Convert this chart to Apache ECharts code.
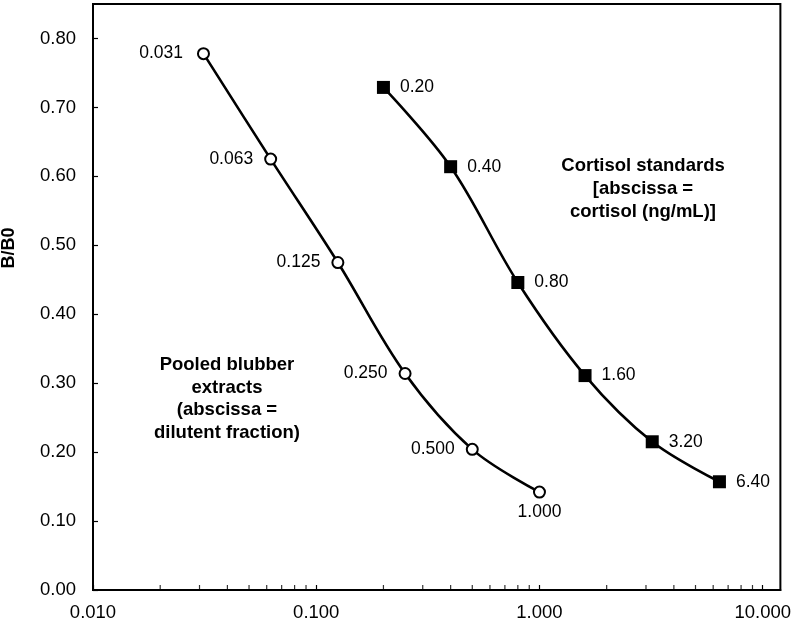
<!DOCTYPE html>
<html>
<head>
<meta charset="utf-8">
<script src="https://cdn.jsdelivr.net/npm/echarts@6/dist/echarts.min.js"></script>
<style>
html,body{margin:0;padding:0;background:#fff;}
#chart{width:794px;height:622px;}
</style>
</head>
<body>
<div id="chart"></div>
<script>
// Pooled blubber extracts (open circles)
var extractX = [0.03125, 0.0625, 0.125, 0.25, 0.5, 1.0];
var extractY = [0.778, 0.625, 0.475, 0.314, 0.204, 0.142];
var extractLabels = ['0.031', '0.063', '0.125', '0.250', '0.500', '1.000'];

// Cortisol standards (filled squares)
var cortisolX = [0.2, 0.4, 0.8, 1.6, 3.2, 6.4];
var cortisolY = [0.729, 0.614, 0.446, 0.311, 0.215, 0.157];
var cortisolLabels = ['0.20', '0.40', '0.80', '1.60', '3.20', '6.40'];

// log-axis minor tick positions
var minorTicks = [0.02, 0.03, 0.04, 0.05, 0.06, 0.07, 0.08, 0.09,
                  0.2, 0.3, 0.4, 0.5, 0.6, 0.7, 0.8, 0.9,
                  2, 3, 4, 5, 6, 7, 8, 9];

var FONT = '"Liberation Sans", Arial, sans-serif';

var chart = echarts.init(document.getElementById('chart'), null, {renderer: 'canvas'});

var extractData = extractX.map(function (x, i) {
  var d = {value: [x, extractY[i]], label: {formatter: extractLabels[i]}};
  if (i === 0) d.label.distance = 14;
  if (i === extractX.length - 1) {
    d.label.position = 'bottom';
    d.label.distance = 5;
  }
  return d;
});
var cortisolData = cortisolX.map(function (x, i) {
  return {value: [x, cortisolY[i]], label: {formatter: cortisolLabels[i]}};
});

var option = {
  animation: false,
  backgroundColor: '#ffffff',
  grid: {
    left: 93, top: 4, right: 13, bottom: 31,
    show: true, borderColor: '#000', borderWidth: 2
  },
  xAxis: {
    type: 'log',
    logBase: 10,
    min: 0.01,
    max: 12,
    axisLine: {lineStyle: {color: '#000', width: 2}},
    axisTick: {inside: true, length: 5, lineStyle: {color: '#000', width: 1.2}},
    splitLine: {show: false},
    axisLabel: {
      color: '#000', fontFamily: FONT, fontSize: 18.5, margin: 13,
      showMaxLabel: false,
      formatter: function (v) { return v.toFixed(3); }
    }
  },
  yAxis: {
    type: 'value',
    min: 0,
    max: 0.85,
    interval: 0.1,
    axisLine: {show: true, lineStyle: {color: '#000', width: 2}},
    axisTick: {show: true, inside: true, length: 5, lineStyle: {color: '#000', width: 1.2}},
    splitLine: {show: false},
    axisLabel: {
      color: '#000', fontFamily: FONT, fontSize: 18.5, margin: 17,
      showMaxLabel: false,
      formatter: function (v) { return v.toFixed(2); }
    }
  },
  graphic: [
    {
      type: 'text', x: 9, y: 248, rotation: Math.PI / 2,
      style: {text: 'B/B0', fontFamily: FONT, fontSize: 18, fontWeight: 'bold',
              fill: '#000', align: 'center', verticalAlign: 'middle'}
    },
    {
      type: 'text', x: 643, y: 189,
      style: {text: 'Cortisol standards\n[abscissa =\ncortisol (ng/mL)]', fontFamily: FONT,
              fontSize: 18.5, fontWeight: 'bold', lineHeight: 23, fill: '#000',
              align: 'center', verticalAlign: 'middle'}
    },
    {
      type: 'text', x: 227, y: 399,
      style: {text: 'Pooled blubber\nextracts\n(abscissa =\ndilutent fraction)', fontFamily: FONT,
              fontSize: 18.5, fontWeight: 'bold', lineHeight: 22.5, fill: '#000',
              align: 'center', verticalAlign: 'middle'}
    }
  ],
  series: [
    {
      type: 'scatter',
      silent: true,
      data: minorTicks.map(function (t) { return [t, 0]; }),
      symbol: 'rect',
      symbolSize: [1.2, 5],
      symbolOffset: [0, -2.5],
      itemStyle: {color: '#000'},
      z: 1
    },
    {
      name: 'Pooled blubber extracts',
      type: 'line',
      smooth: 0.35,
      data: extractData,
      symbol: 'circle',
      symbolSize: 11,
      lineStyle: {color: '#000', width: 2.6},
      itemStyle: {color: '#fff', borderColor: '#000', borderWidth: 2},
      label: {show: true, position: 'left', distance: 11, color: '#000',
              fontFamily: FONT, fontSize: 17.5},
      z: 3
    },
    {
      name: 'Cortisol standards',
      type: 'line',
      smooth: 0.35,
      data: cortisolData,
      symbol: 'rect',
      symbolSize: 13,
      lineStyle: {color: '#000', width: 2.6},
      itemStyle: {color: '#000', borderColor: '#000', borderWidth: 0},
      label: {show: true, position: 'right', distance: 10, color: '#000',
              fontFamily: FONT, fontSize: 17.5},
      z: 3
    }
  ]
};
chart.setOption(option);
</script>
</body>
</html>
